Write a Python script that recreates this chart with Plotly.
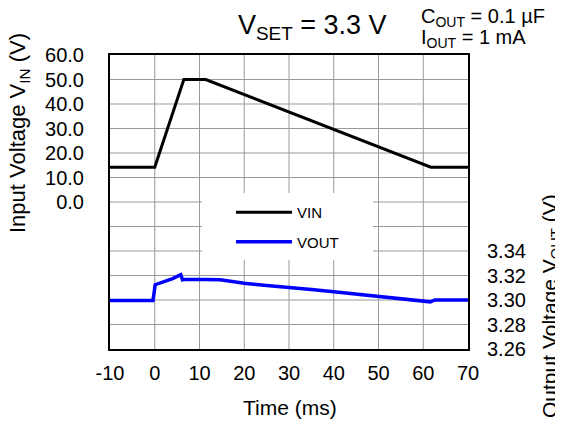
import plotly.graph_objects as go

# VIN profile (ms, V)
t_vin = [-10, 0, 6.5, 11.4, 61.7, 70]
vin = [14.2, 14.2, 50.0, 50.0, 14.2, 14.2]

# VOUT response (ms, V)
t_vout = [-10, -5, -0.4, 0.1, 0.6, 2, 4, 5.8, 6.2, 6.5, 8, 11, 14.6, 20, 25, 30,
          35, 40, 45, 50, 55, 60, 61.6, 62.6, 65, 70]
vout = [3.2995, 3.2995, 3.2995, 3.3125, 3.3132, 3.3145, 3.3175, 3.3206, 3.3165, 3.3168,
        3.3170, 3.3168, 3.3165, 3.3136, 3.3118, 3.3098, 3.3085, 3.3068, 3.3050, 3.3027,
        3.3012, 3.2995, 3.2985, 3.3000, 3.3000, 3.3000]

vin_ticks = [0, 10, 20, 30, 40, 50, 60]
vin_labels = [f"{v:.1f}" for v in vin_ticks]
vin_grid = [-50, -40, -30, -20, -10, 0, 10, 20, 30, 40, 50]
vout_ticks = [3.26, 3.28, 3.30, 3.32, 3.34]
vout_labels = [f"{v:.2f}" for v in vout_ticks]
time_ticks = [-10, 0, 10, 20, 30, 40, 50, 60, 70]
time_labels = [str(t) for t in time_ticks]

W, H = 563, 426
OFF = 8  # page body margin of the html output
L, R, T, B = 110 - OFF, 468 - OFF, 55 - OFF, 349 - OFF
FONT = "Liberation Sans, Arial, sans-serif"
GRID = "#999999"


def px(x, y):
    # target pixel position (in the screenshot) -> paper coords
    return (x - OFF - L) / (R - L), (B - (y - OFF)) / (B - T)


fig = go.Figure()
fig.add_trace(go.Scatter(x=t_vin, y=vin, mode="lines", name="VIN",
                         line=dict(color="black", width=3), legendgroup="a"))
fig.add_trace(go.Scatter(x=t_vout, y=vout, mode="lines", name="VOUT", yaxis="y2",
                         line=dict(color="#0000ff", width=3.5), legendgroup="b"))

axis_common = dict(showline=True, linecolor="black", linewidth=2, mirror=True,
                   showgrid=False, zeroline=False,
                   ticks="", tickfont=dict(size=20, color="black", family=FONT))

fig.update_layout(
    width=W, height=H,
    margin=dict(l=L, r=W - R, t=T, b=H - B, autoexpand=False),
    paper_bgcolor="white", plot_bgcolor="white",
    font=dict(family=FONT, color="black"),
    xaxis=dict(range=[-10, 70], tickvals=time_ticks, ticktext=time_labels,
               ticklabelstandoff=5, **axis_common),
    yaxis=dict(range=[-60, 60], tickvals=vin_ticks, ticktext=vin_labels,
               ticklabelstandoff=20, **axis_common),
    yaxis2=dict(range=[3.26, 3.50], tickvals=vout_ticks, ticktext=vout_labels,
                overlaying="y", side="right", showgrid=False, zeroline=False,
                ticklabelstandoff=18, showline=False, ticks="",
                tickfont=dict(size=20, color="black", family=FONT)),
    showlegend=True,
    legend=dict(x=px(221, 0)[0], y=px(0, 186)[1], xanchor="left", yanchor="top",
                bgcolor="rgba(0,0,0,0)", borderwidth=10, bordercolor="rgba(0,0,0,0)",
                font=dict(size=15, family=FONT), tracegroupgap=7,
                itemwidth=56, entrywidth=100),
)

# grid lines at the tick positions
for t in time_ticks[1:-1]:
    fig.add_shape(type="line", xref="x", yref="paper", x0=t, x1=t, y0=0, y1=1,
                  line=dict(color=GRID, width=1), layer="between")
for v in vin_grid:
    fig.add_shape(type="line", xref="paper", yref="y", x0=0, x1=1, y0=v, y1=v,
                  line=dict(color=GRID, width=1), layer="between")

# white box behind the legend
x0, y0 = px(202, 260)
x1, y1 = px(373, 193)
fig.add_shape(type="rect", xref="paper", yref="paper", x0=x0, y0=y0, x1=x1, y1=y1,
              fillcolor="white", line=dict(width=0), layer="between")

ann = []
tx, ty = px(312, 27)
ann.append(dict(x=tx, y=ty, text="V<sub>SET</sub> = 3.3 V", font=dict(size=27),
                xanchor="center", yanchor="middle"))
tx, ty = px(419, 18)
ann.append(dict(x=tx, y=ty, text="C<sub>OUT</sub> = 0.1 µF",
                font=dict(size=20), xanchor="left", yanchor="middle"))
tx, ty = px(419, 39)
ann.append(dict(x=tx, y=ty, text="I<sub>OUT</sub> = 1 mA",
                font=dict(size=20), xanchor="left", yanchor="middle"))
tx, ty = px(19, 133)
ann.append(dict(x=tx, y=ty, text="Input Voltage V<sub>IN</sub> (V)", textangle=-90,
                font=dict(size=22), xanchor="center", yanchor="middle"))
tx, ty = px(551, 306)
ann.append(dict(x=tx, y=ty, text="Output Voltage V<sub>OUT</sub> (V)", textangle=-90,
                font=dict(size=21), xanchor="center", yanchor="middle"))
tx, ty = px(290, 407)
ann.append(dict(x=tx, y=ty, text="Time (ms)", font=dict(size=21),
                xanchor="center", yanchor="middle"))
for a in ann:
    a.update(xref="paper", yref="paper", showarrow=False)
fig.update_layout(annotations=ann)

fig.write_html("out.html")
